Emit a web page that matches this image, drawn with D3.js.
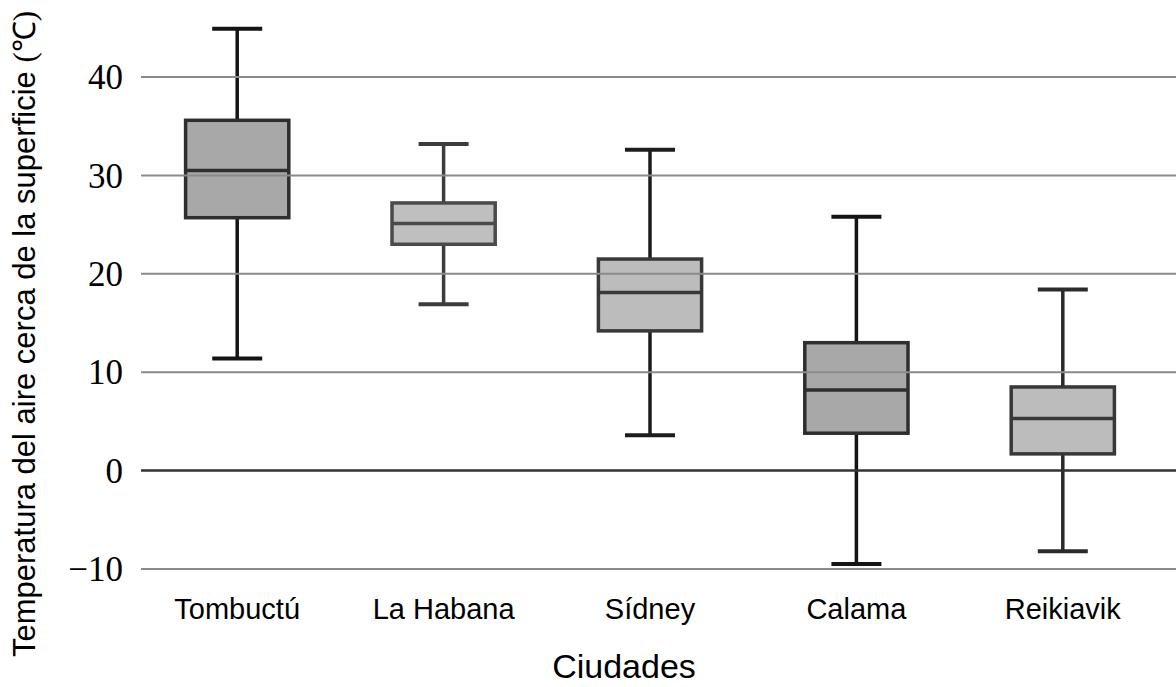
<!DOCTYPE html>
<html>
<head>
<meta charset="utf-8">
<script src="https://cdn.jsdelivr.net/npm/d3@7"></script>
<style>
  body { margin: 0; background: #fff; }
</style>
</head>
<body>
<script>
var cities = ["Tombuctú", "La Habana", "Sídney", "Calama", "Reikiavik"];
var mins    = [11.4, 16.9, 3.6, -9.5, -8.2];
var q1s     = [25.7, 23.0, 14.2, 3.8, 1.7];
var medians = [30.5, 25.1, 18.1, 8.2, 5.3];
var q3s     = [35.6, 27.2, 21.5, 13.0, 8.5];
var maxs    = [44.9, 33.2, 32.6, 25.8, 18.4];
var yTicks  = [-10, 0, 10, 20, 30, 40];

// darker boxes for Tombuctú and Calama
var fills    = ["#a8a8a8", "#bfbfbf", "#bcbcbc", "#a8a8a8", "#bcbcbc"];
var edges    = ["#2e2e2e", "#4a4a4a", "#383838", "#2e2e2e", "#383838"];
var whiskers = ["#141414", "#3c3c3c", "#1c1c1c", "#141414", "#2a2a2a"];

var width = 1176, height = 687;

var svg = d3.select("body").append("svg")
    .attr("width", width)
    .attr("height", height);

var xScale = d3.scalePoint().domain(cities).range([134, 1166]).padding(0.5);
var yScale = d3.scaleLinear().domain([-10, 40]).range([569, 77]);
var boxW = xScale.step() * 0.5;

var data = cities.map(function(c, i) {
  return {city: c, min: mins[i], q1: q1s[i], med: medians[i], q3: q3s[i], max: maxs[i], i: i};
});

var boxes = svg.selectAll(".box")
  .data(data)
  .enter().append("g")
  .attr("class", "box");

// whiskers
boxes.append("line")
  .attr("x1", function(d) { return xScale(d.city); })
  .attr("x2", function(d) { return xScale(d.city); })
  .attr("y1", function(d) { return yScale(d.max); })
  .attr("y2", function(d) { return yScale(d.min); })
  .attr("stroke", function(d) { return whiskers[d.i]; })
  .attr("stroke-width", 3.5);

// caps
["max", "min"].forEach(function(k) {
  boxes.append("line")
    .attr("x1", function(d) { return xScale(d.city) - 25; })
    .attr("x2", function(d) { return xScale(d.city) + 25; })
    .attr("y1", function(d) { return yScale(d[k]); })
    .attr("y2", function(d) { return yScale(d[k]); })
    .attr("stroke", function(d) { return whiskers[d.i]; })
    .attr("stroke-width", 4);
});

boxes.append("rect")
  .attr("x", function(d) { return xScale(d.city) - boxW / 2; })
  .attr("y", function(d) { return yScale(d.q3); })
  .attr("width", boxW)
  .attr("height", function(d) { return yScale(d.q1) - yScale(d.q3); })
  .attr("fill", function(d) { return fills[d.i]; })
  .attr("stroke", function(d) { return edges[d.i]; })
  .attr("stroke-width", 3.5);

boxes.append("line")
  .attr("x1", function(d) { return xScale(d.city) - boxW / 2; })
  .attr("x2", function(d) { return xScale(d.city) + boxW / 2; })
  .attr("y1", function(d) { return yScale(d.med); })
  .attr("y2", function(d) { return yScale(d.med); })
  .attr("stroke", function(d) { return edges[d.i]; })
  .attr("stroke-width", 3.5);

// gridlines sit on top of the boxes
svg.selectAll(".grid")
  .data(yTicks)
  .enter().append("line")
  .attr("class", "grid")
  .attr("x1", 141)
  .attr("x2", width)
  .attr("y1", function(d) { return yScale(d); })
  .attr("y2", function(d) { return yScale(d); })
  .attr("stroke", function(d) { return d === 0 ? "#333" : "#8a8a8a"; })
  .attr("stroke-width", function(d) { return d === 0 ? 2.5 : 2; });

// y tick labels
svg.selectAll(".ytick")
  .data(yTicks)
  .enter().append("text")
  .attr("class", "ytick")
  .attr("x", 123)
  .attr("y", function(d) { return yScale(d); })
  .attr("dy", "0.35em")
  .attr("text-anchor", "end")
  .style("font-family", "'Liberation Serif', 'Times New Roman', serif")
  .style("font-size", "35px")
  .text(function(d) { return d < 0 ? "\u2212" + Math.abs(d) : d; });

// category labels
svg.selectAll(".xtick")
  .data(cities)
  .enter().append("text")
  .attr("class", "xtick")
  .attr("x", function(d) { return xScale(d); })
  .attr("y", 619)
  .attr("text-anchor", "middle")
  .style("font-family", "'Liberation Sans', Arial, sans-serif")
  .style("font-size", "29px")
  .text(function(d) { return d; });

svg.append("text")
  .attr("x", 624)
  .attr("y", 678)
  .attr("text-anchor", "middle")
  .style("font-family", "'Liberation Sans', Arial, sans-serif")
  .style("font-size", "34px")
  .text("Ciudades");

var yt = svg.append("text")
  .attr("transform", "translate(35,334) rotate(-90)")
  .attr("text-anchor", "middle")
  .style("font-family", "'Liberation Sans', Arial, sans-serif")
  .style("font-size", "31px");
yt.append("tspan").text("Temperatura del aire cerca de la superficie ");
yt.append("tspan")
  .style("font-family", "'Liberation Serif', serif")
  .text("(\u2103)");
</script>
</body>
</html>
